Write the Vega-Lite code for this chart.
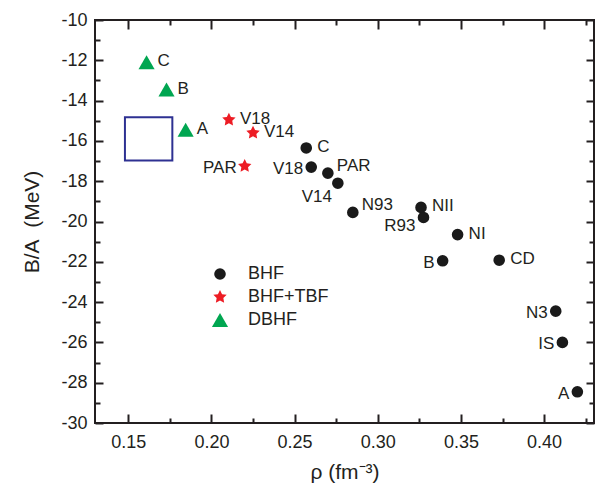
{
  "$schema": "https://vega.github.io/schema/vega-lite/v6.json",
  "width": 499,
  "height": 403,
  "autosize": {"type": "none"},
  "padding": {"left": 95, "top": 20, "right": 8, "bottom": 67},
  "background": "white",
  "config": {
    "view": {"stroke": "#231f20", "strokeWidth": 2},
    "font": "Liberation Sans",
    "axis": {
      "domain": false, "grid": false,
      "tickColor": "#231f20", "tickWidth": 2,
      "labelColor": "#231f20", "labelFont": "Liberation Sans", "labelFontSize": 18,
      "labelFlush": false, "labelOverlap": false,
      "titleFont": "Liberation Sans", "titleFontSize": 21, "titleFontWeight": "normal", "titleColor": "#231f20"
    },
    "text": {"font": "Liberation Sans", "fontSize": 17, "color": "#231f20", "baseline": "middle"}
  },
  "datasets": {
    "pts": [
      {"x": 0.161, "y": -12.1, "series": "DBHF", "label": "C", "pos": "r"},
      {"x": 0.173, "y": -13.45, "series": "DBHF", "label": "B", "pos": "r"},
      {"x": 0.1845, "y": -15.45, "series": "DBHF", "label": "A", "pos": "r"},
      {"x": 0.2105, "y": -14.95, "series": "BHF+TBF", "label": "V18", "pos": "r"},
      {"x": 0.225, "y": -15.6, "series": "BHF+TBF", "label": "V14", "pos": "r"},
      {"x": 0.22, "y": -17.25, "series": "BHF+TBF", "label": "PAR", "pos": "l"},
      {"x": 0.257, "y": -16.35, "series": "BHF", "label": "C", "pos": "r"},
      {"x": 0.26, "y": -17.3, "series": "BHF", "label": "V18", "pos": "l"},
      {"x": 0.27, "y": -17.6, "series": "BHF", "label": "PAR", "pos": "ru"},
      {"x": 0.276, "y": -18.1, "series": "BHF", "label": "V14", "pos": "b"},
      {"x": 0.285, "y": -19.55, "series": "BHF", "label": "N93", "pos": "ru"},
      {"x": 0.326, "y": -19.3, "series": "BHF", "label": "NII", "pos": "r"},
      {"x": 0.3275, "y": -19.8, "series": "BHF", "label": "R93", "pos": "ld"},
      {"x": 0.348, "y": -20.65, "series": "BHF", "label": "NI", "pos": "r"},
      {"x": 0.339, "y": -21.95, "series": "BHF", "label": "B", "pos": "l"},
      {"x": 0.373, "y": -21.92, "series": "BHF", "label": "CD", "pos": "r"},
      {"x": 0.407, "y": -24.45, "series": "BHF", "label": "N3", "pos": "l"},
      {"x": 0.411, "y": -26.0, "series": "BHF", "label": "IS", "pos": "l"},
      {"x": 0.42, "y": -28.45, "series": "BHF", "label": "A", "pos": "l"}
    ],
    "box": [{"x1": 0.148, "x2": 0.1765, "y1": -16.97, "y2": -14.83}]
  },
  "data": {"name": "pts"},
  "layer": [
    {
      "data": {"name": "box"},
      "mark": {"type": "rect", "fill": null, "fillOpacity": 0, "stroke": "#2e3192", "strokeWidth": 2},
      "encoding": {
        "x": {"field": "x1", "type": "quantitative", "scale": {"domain": [0.13, 0.43], "nice": false, "zero": false},
          "axis": {"orient": "bottom", "values": [0.15, 0.2, 0.25, 0.3, 0.35, 0.4], "format": ".2f", "tickSize": -9, "labelPadding": 19, "title": "ρ (fm⁻³)", "titlePadding": 10}},
        "x2": {"field": "x2"},
        "y": {"field": "y1", "type": "quantitative", "scale": {"domain": [-30, -10], "nice": false, "zero": false},
          "axis": {"orient": "left", "values": [-30, -28, -26, -24, -22, -20, -18, -16, -14, -12, -10], "labelExpr": "datum.value + ''", "tickSize": -8, "labelPadding": 16, "title": "B/A\u00a0 (MeV)", "titlePadding": 18}},
        "y2": {"field": "y2"}
      }
    },
    {
      "mark": {"type": "point", "filled": true, "opacity": 1, "strokeWidth": 0},
      "encoding": {
        "x": {"field": "x", "type": "quantitative", "scale": {"domain": [0.13, 0.43], "nice": false, "zero": false},
          "axis": {"orient": "bottom", "values": [0.175, 0.225, 0.275, 0.325, 0.375, 0.425], "labels": false, "tickSize": -5, "title": null}},
        "y": {"field": "y", "type": "quantitative", "scale": {"domain": [-30, -10], "nice": false, "zero": false},
          "axis": {"orient": "left", "values": [-29, -27, -25, -23, -21, -19, -17, -15, -13, -11], "labels": false, "tickSize": -5, "title": null}},
        "color": {"field": "series", "type": "nominal",
          "scale": {"domain": ["BHF", "BHF+TBF", "DBHF"], "range": ["#1a1a1a", "#ed1c24", "#00a651"]},
          "legend": {"title": null, "orient": "none", "legendX": 116, "legendY": 245, "symbolSize": 100, "labelFontSize": 18, "labelFont": "Liberation Sans", "labelColor": "#231f20", "rowPadding": 5, "labelOffset": 19, "padding": 0, "symbolStrokeWidth": 0}},
        "shape": {"field": "series", "type": "nominal",
          "scale": {"domain": ["BHF", "BHF+TBF", "DBHF"], "range": ["circle", "M0,-1L0.294,-0.405L0.951,-0.309L0.476,0.155L0.588,0.809L0,0.5L-0.588,0.809L-0.476,0.155L-0.951,-0.309L-0.294,-0.405Z", "triangle-up"]}},
        "size": {"field": "series", "type": "nominal", "legend": null,
          "scale": {"domain": ["BHF", "BHF+TBF", "DBHF"], "range": [135, 260, 290]}}
      }
    },
    {
      "transform": [{"filter": "datum.pos === 'r'"}],
      "mark": {"type": "text", "align": "left", "dx": 11, "dy": -1},
      "encoding": {
        "x": {"field": "x", "type": "quantitative", "axis": {"orient": "top", "values": [0.15, 0.2, 0.25, 0.3, 0.35, 0.4], "labels": false, "tickSize": -9, "title": null}},
        "y": {"field": "y", "type": "quantitative", "axis": {"orient": "right", "values": [-30, -28, -26, -24, -22, -20, -18, -16, -14, -12, -10], "labels": false, "tickSize": -8, "title": null}},
        "text": {"field": "label"}
      }
    },
    {
      "transform": [{"filter": "datum.pos === 'l'"}],
      "mark": {"type": "text", "align": "right", "dx": -8, "dy": 2},
      "encoding": {
        "x": {"field": "x", "type": "quantitative", "axis": {"orient": "top", "values": [0.175, 0.225, 0.275, 0.325, 0.375, 0.425], "labels": false, "tickSize": -5, "title": null}},
        "y": {"field": "y", "type": "quantitative", "axis": {"orient": "right", "values": [-29, -27, -25, -23, -21, -19, -17, -15, -13, -11], "labels": false, "tickSize": -5, "title": null}},
        "text": {"field": "label"}
      }
    },
    {
      "transform": [{"filter": "datum.pos === 'ru'"}],
      "mark": {"type": "text", "align": "left", "dx": 9, "dy": -7},
      "encoding": {
        "x": {"field": "x", "type": "quantitative", "axis": null},
        "y": {"field": "y", "type": "quantitative", "axis": null},
        "text": {"field": "label"}
      }
    },
    {
      "transform": [{"filter": "datum.pos === 'ld'"}],
      "mark": {"type": "text", "align": "right", "dx": -8, "dy": 9},
      "encoding": {
        "x": {"field": "x", "type": "quantitative", "axis": null},
        "y": {"field": "y", "type": "quantitative", "axis": null},
        "text": {"field": "label"}
      }
    },
    {
      "transform": [{"filter": "datum.pos === 'b'"}],
      "mark": {"type": "text", "align": "center", "dx": -21, "dy": 14},
      "encoding": {
        "x": {"field": "x", "type": "quantitative", "axis": null},
        "y": {"field": "y", "type": "quantitative", "axis": null},
        "text": {"field": "label"}
      }
    }
  ],
  "resolve": {"axis": {"x": "independent", "y": "independent"}}
}
